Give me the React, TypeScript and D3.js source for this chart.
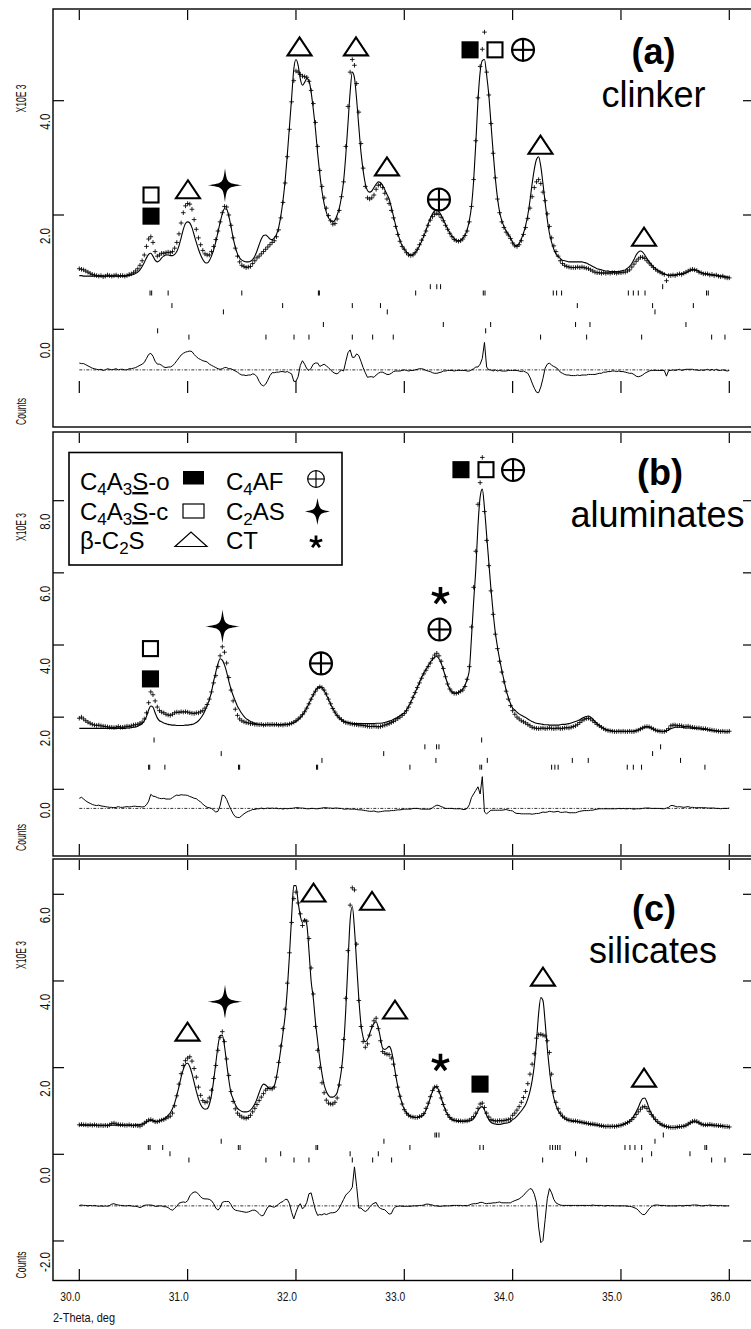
import React from 'react';
import * as d3 from 'd3';

// ---------- data: 2-theta grid 30.00 .. 36.00 step 0.02 (301 points), counts x10^3 ----------
const thetaStart = 30.0;
const thetaStep = 0.02;

const obsA = [
  1.06,1.05,1.04,1.02,1.00,0.98,0.96,0.95,0.94,0.93,
  0.94,0.92,0.93,0.95,0.94,0.93,0.94,0.95,0.93,0.94,
  0.94,0.93,0.94,0.96,0.97,0.99,1.02,1.06,1.12,1.20,
  1.30,1.45,1.58,1.62,1.52,1.36,1.28,1.30,1.33,1.33,
  1.34,1.35,1.34,1.36,1.42,1.52,1.67,1.86,2.04,2.16,
  2.20,2.19,2.10,1.92,1.75,1.60,1.48,1.38,1.32,1.30,
  1.30,1.36,1.45,1.57,1.72,1.88,2.04,2.15,2.14,2.00,
  1.82,1.60,1.42,1.28,1.18,1.12,1.10,1.08,1.09,1.10,
  1.15,1.20,1.25,1.28,1.32,1.36,1.40,1.44,1.48,1.52,
  1.55,1.62,1.74,1.95,2.22,2.56,3.02,3.50,3.98,4.35,
  4.52,4.50,4.46,4.43,4.42,4.41,4.34,4.18,3.95,3.62,
  3.20,2.78,2.50,2.30,2.12,1.99,1.90,1.84,1.85,1.93,
  2.08,2.32,2.58,3.20,3.90,4.50,4.72,4.62,4.30,3.80,
  3.25,2.82,2.50,2.30,2.28,2.30,2.35,2.45,2.52,2.53,
  2.48,2.38,2.28,2.20,2.08,1.95,1.80,1.66,1.54,1.45,
  1.40,1.34,1.30,1.29,1.30,1.34,1.40,1.48,1.56,1.64,
  1.72,1.82,1.91,1.97,2.01,2.03,2.01,1.96,1.90,1.82,
  1.75,1.68,1.62,1.57,1.55,1.54,1.55,1.58,1.64,1.72,
  1.88,2.15,2.62,3.30,4.05,4.60,4.90,5.20,4.50,4.10,
  3.60,3.08,2.65,2.28,2.04,1.88,1.78,1.70,1.65,1.59,
  1.51,1.46,1.45,1.48,1.55,1.66,1.78,1.94,2.12,2.32,
  2.48,2.58,2.62,2.55,2.40,2.25,2.02,1.80,1.60,1.46,
  1.36,1.28,1.20,1.15,1.12,1.10,1.09,1.08,1.08,1.08,
  1.09,1.08,1.09,1.08,1.07,1.06,1.04,1.02,1.00,0.99,
  0.99,0.98,0.99,0.98,0.99,0.98,0.99,0.99,0.98,0.99,
  0.99,1.00,1.00,1.02,1.04,1.09,1.14,1.19,1.23,1.26,
  1.26,1.24,1.20,1.16,1.12,1.08,1.05,1.02,1.00,0.98,
  0.96,0.85,0.94,0.94,0.95,0.94,0.96,0.97,0.96,0.98,
  1.00,1.02,1.04,1.05,1.04,1.03,1.00,0.99,0.97,0.97,
  0.97,0.95,0.96,0.94,0.95,0.93,0.92,0.93,0.91,0.90,0.90,
];

const calcA = [
  0.94,0.94,0.93,0.93,0.93,0.93,0.93,0.93,0.93,0.93,
  0.93,0.93,0.93,0.93,0.93,0.93,0.93,0.93,0.93,0.93,
  0.93,0.93,0.94,0.94,0.95,0.96,0.98,1.00,1.04,1.10,
  1.17,1.25,1.31,1.33,1.28,1.21,1.18,1.20,1.25,1.28,
  1.30,1.30,1.29,1.29,1.31,1.36,1.46,1.60,1.75,1.85,
  1.88,1.86,1.78,1.65,1.52,1.40,1.30,1.22,1.17,1.16,
  1.20,1.28,1.39,1.53,1.70,1.87,2.02,2.11,2.10,1.98,
  1.80,1.60,1.44,1.32,1.25,1.21,1.19,1.18,1.18,1.19,
  1.22,1.28,1.37,1.48,1.58,1.64,1.65,1.62,1.58,1.57,
  1.60,1.66,1.78,1.98,2.25,2.60,3.05,3.55,4.05,4.55,
  4.72,4.62,4.38,4.27,4.32,4.39,4.35,4.15,3.85,3.50,
  3.08,2.72,2.42,2.20,2.05,1.95,1.90,1.88,1.91,2.00,
  2.12,2.32,2.60,3.05,3.60,4.15,4.50,4.40,4.02,3.55,
  3.10,2.78,2.55,2.43,2.40,2.42,2.48,2.54,2.58,2.57,
  2.52,2.44,2.36,2.28,2.14,1.98,1.82,1.68,1.56,1.46,
  1.40,1.35,1.32,1.30,1.31,1.34,1.39,1.46,1.54,1.63,
  1.73,1.84,1.94,2.02,2.07,2.09,2.06,2.00,1.92,1.84,
  1.76,1.69,1.63,1.59,1.56,1.55,1.56,1.59,1.65,1.74,
  1.90,2.15,2.60,3.25,4.00,4.50,4.70,4.72,4.45,4.10,
  3.60,3.10,2.65,2.30,2.05,1.90,1.80,1.72,1.66,1.60,
  1.52,1.47,1.46,1.50,1.58,1.68,1.82,2.00,2.25,2.55,
  2.80,2.97,3.02,2.85,2.55,2.22,1.92,1.68,1.52,1.40,
  1.32,1.27,1.24,1.21,1.20,1.19,1.18,1.18,1.18,1.18,
  1.18,1.18,1.18,1.17,1.16,1.14,1.12,1.10,1.08,1.06,
  1.05,1.04,1.03,1.02,1.02,1.01,1.01,1.01,1.01,1.01,
  1.02,1.03,1.04,1.07,1.10,1.15,1.22,1.30,1.35,1.37,
  1.35,1.30,1.24,1.18,1.13,1.09,1.06,1.03,1.01,0.99,
  0.97,0.96,0.95,0.95,0.95,0.95,0.96,0.96,0.97,0.98,
  0.99,1.01,1.03,1.04,1.04,1.03,1.01,0.99,0.98,0.97,
  0.96,0.96,0.95,0.95,0.94,0.94,0.93,0.93,0.92,0.92,0.91,
];

const obsB = [
  1.97,2.00,1.95,1.90,1.86,1.83,1.80,1.78,1.77,1.78,
  1.76,1.75,1.74,1.73,1.72,1.72,1.71,1.72,1.74,1.72,
  1.72,1.73,1.75,1.74,1.76,1.78,1.79,1.80,1.83,1.86,
  1.95,2.12,2.40,2.70,2.62,2.45,2.28,2.18,2.14,2.12,
  2.08,2.06,2.05,2.08,2.12,2.14,2.13,2.15,2.14,2.15,
  2.14,2.12,2.11,2.10,2.12,2.12,2.15,2.18,2.25,2.35,
  2.50,2.70,2.95,3.15,3.40,3.70,3.95,3.80,3.50,3.10,
  2.75,2.45,2.22,2.05,1.95,1.90,1.87,1.85,1.84,1.82,
  1.82,1.80,1.80,1.79,1.80,1.78,1.79,1.80,1.79,1.80,
  1.79,1.80,1.78,1.79,1.78,1.80,1.79,1.81,1.83,1.86,
  1.90,1.95,2.00,2.07,2.15,2.25,2.37,2.50,2.62,2.72,
  2.80,2.84,2.82,2.75,2.64,2.50,2.37,2.24,2.14,2.05,
  1.98,1.93,1.88,1.85,1.84,1.82,1.81,1.80,1.79,1.78,
  1.78,1.77,1.76,1.75,1.74,1.74,1.75,1.74,1.73,1.74,
  1.76,1.78,1.80,1.82,1.85,1.88,1.92,1.96,2.00,2.05,
  2.10,2.18,2.28,2.40,2.55,2.68,2.82,2.95,3.08,3.20,
  3.30,3.40,3.50,3.62,3.72,3.77,3.70,3.55,3.35,3.12,
  2.92,2.78,2.70,2.66,2.66,2.68,2.72,2.75,2.85,3.05,
  3.40,4.50,5.60,6.60,7.90,8.50,9.20,7.70,6.90,6.20,
  5.50,4.85,4.30,3.90,3.55,3.25,2.98,2.72,2.50,2.32,
  2.18,2.08,2.00,1.95,1.90,1.87,1.84,1.80,1.76,1.72,
  1.70,1.69,1.68,1.69,1.70,1.68,1.69,1.70,1.69,1.68,
  1.69,1.70,1.68,1.69,1.70,1.71,1.70,1.72,1.74,1.76,
  1.80,1.85,1.90,1.94,1.96,1.97,1.95,1.90,1.85,1.80,
  1.76,1.72,1.68,1.65,1.63,1.62,1.61,1.60,1.60,1.61,
  1.60,1.61,1.60,1.60,1.61,1.60,1.60,1.62,1.64,1.67,
  1.70,1.73,1.74,1.73,1.70,1.67,1.64,1.62,1.61,1.60,
  1.60,1.63,1.68,1.76,1.78,1.78,1.76,1.77,1.76,1.74,
  1.74,1.75,1.73,1.72,1.71,1.70,1.70,1.69,1.68,1.68,
  1.66,1.65,1.64,1.63,1.62,1.61,1.60,1.61,1.60,1.60,1.61,
];

const calcB = [
  1.69,1.69,1.69,1.69,1.69,1.69,1.69,1.69,1.69,1.69,
  1.69,1.69,1.69,1.69,1.69,1.69,1.69,1.69,1.69,1.69,
  1.69,1.69,1.70,1.70,1.71,1.72,1.73,1.75,1.78,1.82,
  1.90,2.02,2.20,2.31,2.28,2.12,1.98,1.90,1.87,1.84,
  1.82,1.80,1.79,1.78,1.78,1.77,1.77,1.77,1.77,1.78,
  1.78,1.79,1.80,1.82,1.85,1.90,1.97,2.06,2.18,2.32,
  2.48,2.70,3.00,3.25,3.48,3.62,3.58,3.45,3.25,3.00,
  2.78,2.60,2.45,2.30,2.20,2.10,2.02,1.96,1.92,1.88,
  1.85,1.83,1.81,1.80,1.79,1.79,1.79,1.79,1.79,1.79,
  1.79,1.79,1.79,1.79,1.80,1.80,1.80,1.81,1.83,1.85,
  1.88,1.93,1.99,2.06,2.15,2.26,2.38,2.50,2.62,2.73,
  2.81,2.84,2.81,2.73,2.62,2.49,2.36,2.24,2.13,2.04,
  1.98,1.93,1.90,1.87,1.85,1.84,1.83,1.82,1.82,1.82,
  1.82,1.82,1.82,1.82,1.82,1.82,1.82,1.83,1.83,1.83,
  1.84,1.85,1.87,1.89,1.91,1.94,1.97,2.00,2.04,2.08,
  2.12,2.20,2.30,2.42,2.55,2.68,2.82,2.96,3.10,3.22,
  3.32,3.42,3.52,3.60,3.66,3.68,3.62,3.50,3.32,3.12,
  2.92,2.78,2.70,2.67,2.67,2.69,2.73,2.78,2.88,3.05,
  3.30,4.20,5.20,6.10,7.30,8.10,8.32,7.80,7.05,6.30,
  5.55,4.90,4.35,3.95,3.60,3.30,3.02,2.75,2.55,2.38,
  2.25,2.20,2.14,2.09,2.05,2.02,1.99,1.95,1.91,1.88,
  1.85,1.83,1.82,1.81,1.80,1.79,1.79,1.78,1.78,1.78,
  1.78,1.78,1.79,1.80,1.80,1.81,1.82,1.84,1.86,1.88,
  1.90,1.93,1.97,2.00,2.02,2.03,2.00,1.95,1.88,1.82,
  1.77,1.73,1.69,1.66,1.64,1.63,1.62,1.61,1.61,1.61,
  1.61,1.61,1.61,1.61,1.61,1.61,1.62,1.63,1.65,1.68,
  1.70,1.72,1.73,1.72,1.70,1.67,1.64,1.62,1.61,1.61,
  1.61,1.62,1.65,1.68,1.70,1.72,1.72,1.72,1.72,1.71,
  1.70,1.70,1.70,1.69,1.69,1.68,1.68,1.67,1.66,1.66,
  1.65,1.64,1.63,1.62,1.62,1.61,1.61,1.61,1.60,1.60,1.60,
];

const obsC = [
  0.68,0.69,0.68,0.68,0.67,0.68,0.67,0.68,0.67,0.66,
  0.67,0.66,0.67,0.66,0.68,0.71,0.72,0.70,0.69,0.68,
  0.68,0.67,0.67,0.68,0.67,0.66,0.67,0.66,0.65,0.68,
  0.72,0.76,0.79,0.80,0.78,0.75,0.75,0.77,0.79,0.80,
  0.83,0.86,0.88,0.95,1.12,1.35,1.62,1.86,2.05,2.16,
  2.22,2.25,2.15,1.98,1.78,1.55,1.36,1.24,1.20,1.21,
  1.30,1.48,1.75,2.05,2.40,2.70,2.83,2.60,2.20,1.82,
  1.45,1.22,1.05,0.95,0.90,0.86,0.84,0.83,0.85,0.90,
  0.98,1.06,1.15,1.24,1.32,1.40,1.48,1.52,1.52,1.51,
  1.55,1.78,2.12,2.50,2.90,3.35,3.95,4.65,5.35,5.90,
  6.05,5.80,5.55,5.28,5.40,5.38,4.98,4.30,3.70,2.95,
  2.40,2.00,1.65,1.42,1.25,1.18,1.16,1.16,1.20,1.30,
  1.60,2.00,2.65,3.60,4.70,5.75,6.15,6.10,4.85,3.55,
  2.95,2.60,2.47,2.55,2.75,2.95,3.08,3.14,2.90,2.62,
  2.37,2.33,2.31,2.30,2.22,2.08,1.82,1.55,1.34,1.16,
  1.03,0.95,0.90,0.87,0.86,0.85,0.85,0.87,0.89,0.94,
  1.06,1.18,1.33,1.47,1.55,1.56,1.45,1.30,1.15,1.02,
  0.92,0.85,0.81,0.79,0.78,0.77,0.77,0.76,0.77,0.77,
  0.79,0.82,0.87,0.95,1.06,1.16,1.18,1.08,0.95,0.86,
  0.80,0.78,0.77,0.77,0.78,0.77,0.78,0.79,0.80,0.82,
  0.90,0.95,1.02,1.10,1.20,1.31,1.45,1.63,1.85,2.08,
  2.32,2.68,2.76,2.77,2.75,2.73,2.62,2.35,1.85,1.45,
  1.20,1.05,0.95,0.88,0.84,0.81,0.79,0.78,0.77,0.77,
  0.76,0.75,0.74,0.73,0.72,0.71,0.70,0.70,0.69,0.68,
  0.67,0.66,0.65,0.64,0.65,0.64,0.65,0.64,0.65,0.66,
  0.67,0.69,0.71,0.73,0.76,0.80,0.85,0.92,0.98,1.04,
  1.09,1.10,1.06,0.99,0.92,0.86,0.80,0.75,0.71,0.68,
  0.66,0.64,0.63,0.62,0.62,0.62,0.63,0.64,0.64,0.65,
  0.67,0.70,0.73,0.76,0.77,0.76,0.73,0.70,0.68,0.68,
  0.68,0.69,0.68,0.67,0.67,0.66,0.66,0.65,0.64,0.64,0.63,
];

const calcC = [
  0.67,0.67,0.67,0.67,0.67,0.67,0.67,0.67,0.67,0.67,
  0.67,0.67,0.67,0.67,0.67,0.67,0.67,0.67,0.67,0.67,
  0.67,0.67,0.67,0.67,0.67,0.67,0.68,0.68,0.69,0.70,
  0.71,0.74,0.77,0.78,0.77,0.76,0.76,0.77,0.79,0.82,
  0.85,0.90,0.96,1.05,1.18,1.36,1.56,1.78,1.96,2.08,
  2.10,2.02,1.86,1.66,1.46,1.28,1.15,1.07,1.04,1.05,
  1.15,1.36,1.70,2.10,2.50,2.74,2.75,2.50,2.10,1.72,
  1.42,1.28,1.15,1.06,1.02,0.99,0.98,0.98,0.99,1.02,
  1.08,1.16,1.28,1.42,1.55,1.62,1.60,1.55,1.52,1.53,
  1.58,1.78,2.08,2.42,2.80,3.20,3.80,4.60,5.50,6.20,
  6.20,5.82,5.50,5.35,5.42,5.30,4.70,4.00,3.60,3.05,
  2.62,2.20,1.86,1.60,1.45,1.36,1.32,1.32,1.35,1.42,
  1.65,1.95,2.50,3.35,4.40,5.40,5.72,5.20,4.40,3.60,
  3.00,2.70,2.60,2.65,2.78,2.92,3.02,3.06,2.92,2.68,
  2.45,2.42,2.45,2.49,2.40,2.15,1.84,1.56,1.34,1.17,
  1.04,0.96,0.91,0.88,0.86,0.85,0.85,0.86,0.88,0.92,
  1.02,1.14,1.30,1.45,1.55,1.56,1.46,1.31,1.15,1.02,
  0.92,0.85,0.80,0.78,0.77,0.76,0.76,0.76,0.76,0.77,
  0.77,0.78,0.82,0.90,1.00,1.08,1.10,1.02,0.90,0.80,
  0.74,0.71,0.70,0.69,0.69,0.70,0.71,0.72,0.73,0.75,
  0.80,0.83,0.88,0.94,1.00,1.07,1.15,1.28,1.45,1.70,
  2.05,2.60,3.25,3.62,3.55,3.05,2.45,1.95,1.55,1.30,
  1.13,1.01,0.93,0.87,0.83,0.80,0.78,0.77,0.76,0.76,
  0.75,0.74,0.73,0.72,0.71,0.70,0.69,0.68,0.68,0.67,
  0.66,0.65,0.65,0.64,0.64,0.64,0.64,0.64,0.65,0.66,
  0.67,0.69,0.71,0.74,0.77,0.82,0.89,0.98,1.08,1.20,
  1.29,1.30,1.20,1.06,0.94,0.85,0.78,0.73,0.70,0.67,
  0.65,0.64,0.63,0.62,0.62,0.62,0.63,0.63,0.64,0.65,
  0.66,0.69,0.72,0.74,0.75,0.74,0.72,0.70,0.68,0.67,
  0.67,0.67,0.67,0.66,0.66,0.66,0.65,0.65,0.64,0.64,0.63,
];

// offsets (x10^3 counts) at which the difference curves are drawn
const diffOffsets = [-0.71, -0.53, -1.19];

// axes
const xTickValues = [30, 31, 32, 33, 34, 35, 36];
const xTickLabels = ['30.0', '31.0', '32.0', '33.0', '34.0', '35.0', '36.0'];
const yTicksA = [0, 2, 4];
const yTicksB = [0, 2, 4, 6, 8];
const yTicksC = [-2, 0, 2, 4, 6];
const yTickLabelsA = ['0.0', '2.0', '4.0'];
const yTickLabelsB = ['0.0', '2.0', '4.0', '6.0', '8.0'];
const yTickLabelsC = ['-2.0', '0.0', '2.0', '4.0', '6.0'];
const panelTags = ['(a)', '(b)', '(c)'];
const panelNames = ['clinker', 'aluminates', 'silicates'];

// reflection tick rows (row index, 2-theta positions)
const reflA = [
  { row: 0, pos: [33.24, 33.3, 33.335, 35.385] },
  { row: 1, pos: [30.653, 30.668, 30.82, 31.5, 32.207, 32.216, 33.105, 33.729, 33.745, 34.375, 34.406, 34.452, 35.068, 35.114, 35.16, 35.222, 35.79, 35.806] },
  { row: 3, pos: [30.855, 31.877, 32.52, 32.78, 34.597, 35.292, 35.668] },
  { row: 4, pos: [31.33, 32.843, 35.314] },
  { row: 6, pos: [32.253, 33.36, 33.797, 34.581, 34.714, 35.6] },
  { row: 7, pos: [30.723, 33.751] },
  { row: 8, pos: [31.012, 31.723, 31.982, 32.12, 32.52, 32.708, 32.898, 34.258, 34.683, 35.191, 35.837, 35.96] },
];
const reflB = [
  { row: 0, pos: [30.69, 33.714] },
  { row: 1, pos: [33.19, 33.298, 33.32, 35.366] },
  { row: 2, pos: [31.31, 32.81, 35.292] },
  { row: 3, pos: [32.24, 33.292, 33.766, 34.551, 34.698, 35.55] },
  { row: 4, pos: [30.64, 30.65, 30.79, 31.47, 31.48, 32.19, 32.2, 33.052, 33.698, 33.714, 34.36, 34.39, 34.42, 35.058, 35.114, 35.19, 35.775] },
];
const reflC = [
  { row: 0, pos: [33.283, 33.298, 33.32, 35.391] },
  { row: 1, pos: [31.31, 32.812, 35.314] },
  { row: 2, pos: [30.637, 30.653, 30.77, 31.468, 31.484, 32.185, 32.2, 33.052, 33.698, 33.729, 34.345, 34.369, 34.394, 34.415, 34.437, 35.037, 35.083, 35.129, 35.191, 35.775, 35.791] },
  { row: 3, pos: [30.837, 31.859, 32.5, 32.76, 34.581, 35.283, 35.637] },
  { row: 4, pos: [31.012, 31.723, 31.982, 32.12, 32.52, 32.708, 32.883, 34.277, 34.683, 35.197, 35.837, 35.96] },
];

// phase markers (type, 2-theta, counts x10^3 at marker centre)
const markersA = [
  { type: 'openSquare', t: 30.662, v: 2.35 },
  { type: 'filledSquare', t: 30.662, v: 1.98 },
  { type: 'triangle', t: 31.003, v: 2.45 },
  { type: 'star', t: 31.345, v: 2.52 },
  { type: 'triangle', t: 32.033, v: 4.95 },
  { type: 'triangle', t: 32.554, v: 4.95 },
  { type: 'triangle', t: 32.84, v: 2.85 },
  { type: 'cplus', t: 33.32, v: 2.27 },
  { type: 'filledSquare', t: 33.607, v: 4.89 },
  { type: 'openSquare', t: 33.837, v: 4.89 },
  { type: 'cplus', t: 34.096, v: 4.89 },
  { type: 'triangle', t: 34.257, v: 3.23 },
  { type: 'triangle', t: 35.213, v: 1.62 },
];
const markersB = [
  { type: 'openSquare', t: 30.657, v: 3.9 },
  { type: 'filledSquare', t: 30.657, v: 3.06 },
  { type: 'star', t: 31.322, v: 4.51 },
  { type: 'cplus', t: 32.231, v: 3.49 },
  { type: 'asterisk', t: 33.334, v: 5.36 },
  { type: 'cplus', t: 33.325, v: 4.43 },
  { type: 'filledSquare', t: 33.523, v: 8.86 },
  { type: 'openSquare', t: 33.754, v: 8.86 },
  { type: 'cplus', t: 34.004, v: 8.85 },
];
const markersC = [
  { type: 'triangle', t: 30.999, v: 2.83 },
  { type: 'star', t: 31.345, v: 3.52 },
  { type: 'triangle', t: 32.162, v: 6.04 },
  { type: 'triangle', t: 32.702, v: 5.85 },
  { type: 'triangle', t: 32.914, v: 3.34 },
  { type: 'asterisk', t: 33.334, v: 2.11 },
  { type: 'filledSquare', t: 33.699, v: 1.62 },
  { type: 'triangle', t: 34.28, v: 4.1 },
  { type: 'triangle', t: 35.213, v: 1.77 },
];

// ---------- drawing ----------
const FONT = "'Liberation Sans', Arial, Helvetica, sans-serif";

function starPath(cx: number, cy: number, rx: number, ry: number) {
  const k = 2;
  return `M${cx},${cy - ry}` +
    `C${cx + k},${cy - k} ${cx + k},${cy - k} ${cx + rx},${cy}` +
    `C${cx + k},${cy + k} ${cx + k},${cy + k} ${cx},${cy + ry}` +
    `C${cx - k},${cy + k} ${cx - k},${cy + k} ${cx - rx},${cy}` +
    `C${cx - k},${cy - k} ${cx - k},${cy - k} ${cx},${cy - ry}Z`;
}

function asteriskPath(cx: number, cy: number, r: number) {
  let d = '';
  for (let a = 0; a < 5; a++) {
    const ang = (a * 72 * Math.PI) / 180;
    d += `M${cx},${cy}L${cx + r * Math.sin(ang)},${cy - r * Math.cos(ang)}`;
  }
  return d;
}

function Marker({ type, cx, cy }: { type: string; cx: number; cy: number }) {
  const sw = 2.1;
  if (type === 'openSquare' || type === 'filledSquare') {
    const s = 15;
    return <rect x={cx - s / 2} y={cy - s / 2} width={s} height={s}
      fill={type === 'filledSquare' ? '#000' : '#fff'} stroke="#000" strokeWidth={sw} />;
  }
  if (type === 'triangle') {
    const w = 24, h = 18;
    return <polygon points={`${cx - w / 2},${cy + h / 2} ${cx + w / 2},${cy + h / 2} ${cx},${cy - h / 2}`}
      fill="none" stroke="#000" strokeWidth={sw} strokeLinejoin="miter" />;
  }
  if (type === 'cplus') {
    const r = 11;
    return <g stroke="#000" strokeWidth={sw} fill="none">
      <circle cx={cx} cy={cy} r={r} />
      <line x1={cx - r} x2={cx + r} y1={cy} y2={cy} />
      <line x1={cx} x2={cx} y1={cy - r} y2={cy + r} />
    </g>;
  }
  if (type === 'star') {
    return <path d={starPath(cx, cy, 17.5, 17)} fill="#000" />;
  }
  if (type === 'asterisk') {
    return <path d={asteriskPath(cx, cy, 9)} stroke="#000" strokeWidth={3.6} fill="none" />;
  }
  return null;
}

export default function App() {
  const x = d3.scaleLinear().domain([30, 36]).range([79.3, 729.3]);
  const thetas = obsA.map((_, i) => thetaStart + i * thetaStep);

  const panels = [
    {
      obs: obsA, calc: calcA, diffOffset: diffOffsets[0], yTicks: yTicksA, yLabels: yTickLabelsA,
      y: d3.scaleLinear().domain([0, 4]).range([329.3, 100.7]),
      top: 9, bottom: 427, bTick: [381, 393], refl: reflA, reflY0: 286.7, reflDy: 6.3,
      markers: markersA, titleY: 98.5, countsY: 411.5, tagX: 653.5, tagY: 64, nameX: 653.5, nameY: 107,
    },
    {
      obs: obsB, calc: calcB, diffOffset: diffOffsets[1], yTicks: yTicksB, yLabels: yTickLabelsB,
      y: d3.scaleLinear().domain([0, 8]).range([789.3, 500.7]),
      top: 432, bottom: 856, bTick: [844, 855.5], refl: reflB, reflY0: 740, reflDy: 6.8,
      markers: markersB, titleY: 527, countsY: 837.5, tagX: 660, tagY: 485, nameX: 657.5, nameY: 527,
    },
    {
      obs: obsC, calc: calcC, diffOffset: diffOffsets[2], yTicks: yTicksC, yLabels: yTickLabelsC,
      y: d3.scaleLinear().domain([0, 6]).range([1154.3, 894.3]),
      top: 859, bottom: 1280.5, bTick: [1269, 1280.5], refl: reflC, reflY0: 1135, reflDy: 6.25,
      markers: markersC, titleY: 955, countsY: 1265, tagX: 654, tagY: 921, nameX: 653, nameY: 963,
    },
  ];

  return (
    <svg width={751} height={1329} viewBox="0 0 751 1329"
      style={{ position: 'absolute', left: 0, top: 0, background: '#fff', fontFamily: FONT }}>
      <rect x={0} y={0} width={751} height={1329} fill="#fff" />
      {panels.map((p, pi) => {
        const y = p.y;
        const calcLine = d3.line<number>()
          .x((_, i) => x(thetas[i]))
          .y(d => y(d))
          .curve(d3.curveMonotoneX)(p.calc) || '';
        const diffLine = d3.line<number>()
          .x((_, i) => x(thetas[i]))
          .y((d, i) => y(p.diffOffset + d - p.calc[i]))(p.obs) || '';
        const plus = p.obs.map((v, i) => {
          const px = x(thetas[i]), py = y(v);
          return `M${(px - 2.3).toFixed(2)},${py.toFixed(2)}h4.6M${px.toFixed(2)},${(py - 2.3).toFixed(2)}v4.6`;
        }).join('');
        const yd = y(p.diffOffset);
        return (
          <g key={pi}>
            {/* frame */}
            <rect x={53} y={p.top} width={701} height={p.bottom - p.top} fill="none" stroke="#000" strokeWidth={1.4} />
            {/* x ticks top & bottom */}
            {xTickValues.map((t, i) => (
              <g key={i} stroke="#000" strokeWidth={1.2}>
                <line x1={x(t)} x2={x(t)} y1={p.top + 1} y2={p.top + 11} />
                <line x1={x(t)} x2={x(t)} y1={p.bTick[0]} y2={p.bTick[1]} />
              </g>
            ))}
            {/* y ticks */}
            {p.yTicks.map((v, i) => (
              <g key={i}>
                <line x1={53} x2={64} y1={y(v)} y2={y(v)} stroke="#000" strokeWidth={1.2} />
                <line x1={743} x2={754} y1={y(v)} y2={y(v)} stroke="#000" strokeWidth={1.2} />
                <text transform={`translate(50,${y(v) + 21}) rotate(-90)`} textAnchor="middle"
                  fontSize={15} textLength={p.yLabels[i].length > 3 ? 20 : 16} lengthAdjust="spacingAndGlyphs"
                  fill="#111">{p.yLabels[i]}</text>
              </g>
            ))}
            <text transform={`translate(26,${p.titleY}) rotate(-90)`} textAnchor="middle" fontSize={14.5}
              textLength={28} lengthAdjust="spacingAndGlyphs" fill="#111">X10E 3</text>
            <text transform={`translate(26,${p.countsY}) rotate(-90)`} textAnchor="middle" fontSize={14.5}
              textLength={27} lengthAdjust="spacingAndGlyphs" fill="#111">Counts</text>
            {/* reflection markers */}
            {p.refl.map((ph, k) => (
              <g key={k} stroke="#000" strokeWidth={1}>
                {ph.pos.map((t, j) => {
                  const ry = p.reflY0 + ph.row * p.reflDy;
                  return <line key={j} x1={x(t)} x2={x(t)} y1={ry - 2.5} y2={ry + 2.5} />;
                })}
              </g>
            ))}
            {/* observed */}
            <path d={plus} stroke="#000" strokeWidth={1} fill="none" opacity={0.85} />
            {/* calculated */}
            <path d={calcLine} stroke="#000" strokeWidth={1.1} fill="none" />
            {/* difference */}
            <line x1={x(30)} x2={x(36)} y1={yd} y2={yd} stroke="#000" strokeWidth={0.8} strokeDasharray="3 1.5 1 1.5" />
            <path d={diffLine} stroke="#000" strokeWidth={1} fill="none" />
            {/* phase markers */}
            {p.markers.map((m, i) => (
              <Marker key={i} type={m.type} cx={x(m.t)} cy={y(m.v)} />
            ))}
            {/* panel labels */}
            <text x={p.tagX} y={p.tagY} textAnchor="middle" fontSize={36} fontWeight="bold">{panelTags[pi]}</text>
            <text x={p.nameX} y={p.nameY} textAnchor="middle" fontSize={36}>{panelNames[pi]}</text>
          </g>
        );
      })}

      {/* x axis labels */}
      {xTickValues.map((t, i) => (
        <text key={i} x={x(t) + 1} y={1301} textAnchor="end" fontSize={13} textLength={20}
          lengthAdjust="spacingAndGlyphs" fill="#111">{xTickLabels[i]}</text>
      ))}
      <text x={53} y={1322} fontSize={13} textLength={62} lengthAdjust="spacingAndGlyphs" fill="#111">2-Theta, deg</text>

      {/* legend */}
      <g>
        <rect x={69} y={452.5} width={273} height={112.5} fill="#fff" stroke="#000" strokeWidth={1.6} />
        <g fontSize={24} fill="#000">
          <text x={80} y={490}>C<tspan fontSize={17} dy={5}>4</tspan><tspan dy={-5}>A</tspan><tspan fontSize={17} dy={5}>3</tspan><tspan dy={-5} style={{ textDecoration: 'underline' }}>S</tspan><tspan>-o</tspan></text>
          <text x={80} y={520}>C<tspan fontSize={17} dy={5}>4</tspan><tspan dy={-5}>A</tspan><tspan fontSize={17} dy={5}>3</tspan><tspan dy={-5} style={{ textDecoration: 'underline' }}>S</tspan><tspan>-c</tspan></text>
          <text x={80} y={548.5}>β-C<tspan fontSize={17} dy={5}>2</tspan><tspan dy={-5}>S</tspan></text>
          <text x={226} y={490}>C<tspan fontSize={17} dy={5}>4</tspan><tspan dy={-5}>AF</tspan></text>
          <text x={226} y={520}>C<tspan fontSize={17} dy={5}>2</tspan><tspan dy={-5}>AS</tspan></text>
          <text x={226} y={548.5}>CT</text>
        </g>
        <rect x={183} y={471} width={21} height={13.5} fill="#000" />
        <rect x={183} y={504} width={21} height={14} fill="#fff" stroke="#000" strokeWidth={1.2} />
        <polygon points="175,546.5 207,546.5 191,532" fill="none" stroke="#000" strokeWidth={1.2} />
        <g stroke="#000" strokeWidth={1.2} fill="none">
          <circle cx={316} cy={479} r={8.3} />
          <line x1={307.7} x2={324.3} y1={479} y2={479} />
          <line x1={316} x2={316} y1={470.7} y2={487.3} />
        </g>
        <path d={starPath(317.5, 511.5, 12.5, 13.5)} fill="#000" />
        <path d={asteriskPath(316, 542, 6.5)} stroke="#000" strokeWidth={2.8} fill="none" />
      </g>
    </svg>
  );
}
